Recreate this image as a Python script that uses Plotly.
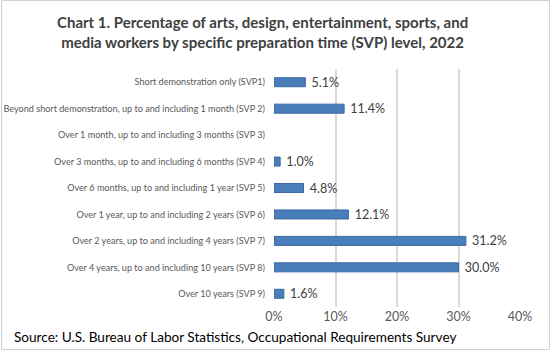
import plotly.graph_objects as go

categories = [
    "Short demonstration only (SVP1)",
    "Beyond short demonstration, up to and including 1 month (SVP 2)",
    "Over 1 month, up to and including 3 months (SVP 3)",
    "Over 3 months, up to and including 6 months (SVP 4)",
    "Over 6 months, up to and including 1 year (SVP 5)",
    "Over 1 year, up to and including 2 years (SVP 6)",
    "Over 2 years, up to and including 4 years (SVP 7)",
    "Over 4 years, up to and including 10 years (SVP 8)",
    "Over 10 years (SVP 9)",
]
values = [5.1, 11.4, None, 1.0, 4.8, 12.1, 31.2, 30.0, 1.6]
value_labels = ["5.1%", "11.4%", "", "1.0%", "4.8%", "12.1%", "31.2%", "30.0%", "1.6%"]
tick_vals = [0, 10, 20, 30, 40]
tick_text = ["0%", "10%", "20%", "30%", "40%"]

W, H = 551, 351
L, R, T, B = 273.5, 31, 69, 44
FONT = "Lato, Carlito, Calibri, sans-serif"

fig = go.Figure()
fig.add_trace(go.Bar(
    y=categories, x=values, orientation="h",
    marker=dict(color="#4a7ebb", line=dict(color="#3a68a0", width=1)),
    width=0.34,
    text=value_labels, texttemplate=" %{text}", textposition="outside",
    cliponaxis=False, constraintext="none",
    textfont=dict(family=FONT, size=12.5, color="#404040"),
    hoverinfo="skip",
))

pw = W - L - R
ph = H - T - B
def px_x(x):
    return (x - L) / pw
def px_y(y):
    return 1 - (y - T) / ph

fig.update_layout(
    width=W, height=H,
    margin=dict(l=L, r=R, t=T, b=B, autoexpand=False),
    paper_bgcolor="white", plot_bgcolor="white",
    showlegend=False,
    font=dict(family=FONT),
    xaxis=dict(range=[0, 40], tickvals=tick_vals, ticktext=tick_text,
               showgrid=True, gridcolor="#d9d9d9", gridwidth=1.5,
               zeroline=False, showline=False, ticks="",
               tickfont=dict(family=FONT, size=12.5, color="#595959"),
               fixedrange=True),
    yaxis=dict(autorange="reversed", showgrid=False, zeroline=False,
               showline=False, ticks="", ticklen=0, ticklabelstandoff=8,
               tickfont=dict(family=FONT, size=9.1, color="#595959"),
               fixedrange=True),
    annotations=[
        dict(text="<b>Chart 1. Percentage of arts, design, entertainment, sports, and<br>media workers by specific preparation time (SVP) level, 2022</b>",
             xref="paper", yref="paper", x=px_x(262), y=px_y(32), xanchor="center", yanchor="middle",
             showarrow=False, align="center",
             font=dict(family=FONT, size=15, color="#404040")),
        dict(text="Source: U.S. Bureau of Labor Statistics, Occupational Requirements Survey",
             xref="paper", yref="paper", x=px_x(11), y=px_y(337), xanchor="left", yanchor="middle",
             showarrow=False, font=dict(family=FONT, size=13.6, color="#000000")),
    ],
    shapes=[
        dict(type="rect", xref="paper", yref="paper",
             x0=px_x(0.5), x1=px_x(W - 1.5), y0=px_y(0.5), y1=px_y(H - 1.5),
             line=dict(color="#cfcfcf", width=1), fillcolor="rgba(0,0,0,0)", layer="below"),
    ],
)

fig.write_html("out.html")
